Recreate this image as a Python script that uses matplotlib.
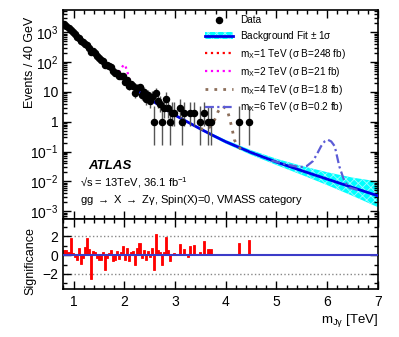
import numpy as np
import matplotlib
matplotlib.use("Agg")
from matplotlib import pyplot as plt
from matplotlib.lines import Line2D
from matplotlib.patches import Patch
from matplotlib.ticker import FixedLocator, FixedFormatter, MultipleLocator, NullFormatter

plt.rcParams['font.family'] = ['Liberation Sans', 'DejaVu Sans']
plt.rcParams['mathtext.fontset'] = 'custom'
plt.rcParams['mathtext.rm'] = 'Liberation Sans'
plt.rcParams['mathtext.it'] = 'Liberation Sans:italic'
plt.rcParams['mathtext.bf'] = 'Liberation Sans:bold'
plt.rcParams['mathtext.default'] = 'regular'
plt.rcParams['hatch.linewidth'] = 0.6

# data: 40 GeV bins starting at 0.8 TeV
bin_lo = 0.8
bin_width = 0.04
counts = [1866, 1598, 1360, 1214, 992, 839, 713, 641, 515, 454,
          412, 374, 305, 215, 226, 195, 161, 137, 118, 110,
          78, 78, 73, 66, 50, 44, 44, 34, 33, 33,
          22, 25, 16, 18, 16, 9, 14, 15, 8, 10,
          6, 8, 5, 7, 1, 9, 5, 4, 1, 3,
          6, 3, 1, 2, 2, 0, 0, 3, 1, 2,
          0, 0, 2, 0, 2, 0, 0, 1, 0, 2,
          0, 1, 1, 0, 0, 0, 0, 0, 0, 0,
          0, 0, 0, 0, 0, 0, 1, 0, 0, 0,
          0, 1]
significance = [0.5, 0.5, 0.3, 1.8, 0.2, -0.2, -0.5, 0.7, -0.9, -0.3,
                0.8, 1.75, 0.6, -2.5, 0.4, 0.35, -0.3, -0.5, -0.5, 0.3,
                -1.6, -0.3, 0.2, 0.5, -0.6, -0.5, 0.4, -0.4, 0.3, 1.0,
                -0.5, 0.7, -0.6, 0.3, 0.4, -1.0, 0.7, 1.3, -0.3, 0.5,
                -0.5, 0.4, -0.2, 0.7, -1.6, 2.2, 0.5, 0.35, -1.1, 0.3,
                1.9, 0.5, -0.6, 0.1, 0.2, 0, 0, 1.2, 0.1, 0.6,
                0, -0.25, 1.0, 0, 1.1, 0, 0, 0.35, 0, 1.5,
                0, 0.6, 0.6, 0, 0, 0, 0, 0, 0, 0,
                0, 0, 0, 0, 0, 0, 1.3, 0, 0, 0,
                0, 1.6]

# poisson (garwood) errors for small counts: n -> (down, up)
poisson_err = {1: (0.83, 2.30), 2: (1.29, 2.64), 3: (1.63, 2.92), 4: (1.91, 3.16),
               5: (2.16, 3.38), 6: (2.38, 3.58), 7: (2.58, 3.77), 8: (2.77, 3.94),
               9: (2.94, 4.11), 10: (3.11, 4.26)}

# background fit and +-1 sigma band (half width in decades)
bkg_x = [0.8, 1.0, 1.2, 1.4, 1.6, 1.8, 2.0, 2.2, 2.4, 2.6, 2.8, 3.0, 3.25,
         3.5, 3.75, 4.0, 4.5, 5.0, 5.5, 6.0, 6.5, 7.0]
bkg_y = [1995, 912, 427, 204, 100, 50, 25.7, 13.8, 7.76, 4.47, 2.69, 1.66, 0.977,
         0.575, 0.347, 0.214, 0.0933, 0.0447, 0.0229, 0.0120, 0.0063, 0.0033]
band_up = [0.01, 0.01, 0.01, 0.01, 0.01, 0.01, 0.015, 0.015, 0.02, 0.02, 0.025, 0.03,
           0.035, 0.04, 0.05, 0.06, 0.08, 0.11, 0.16, 0.23, 0.33, 0.48]
band_dn = [0.01, 0.01, 0.01, 0.01, 0.01, 0.01, 0.015, 0.015, 0.02, 0.02, 0.025, 0.03,
           0.035, 0.04, 0.05, 0.06, 0.08, 0.1, 0.14, 0.2, 0.28, 0.38]

# signal + background curves
sig1_x = [0.86, 0.90, 0.94, 0.98, 1.00, 1.02, 1.06, 1.10]
sig1_y = [1580, 1370, 1260, 1230, 1200, 1080, 780, 630]
sig2_x = [1.80, 1.86, 1.90, 1.94, 1.98, 2.00, 2.02, 2.06, 2.10, 2.16]
sig2_y = [50, 42, 46, 60, 78, 82, 76, 48, 26, 16]
sig4_x = [3.5, 3.6, 3.7, 3.75, 3.8, 3.85, 3.9, 3.95, 4.0, 4.04, 4.08, 4.12, 4.17, 4.22, 4.3]
sig4_y = [0.58, 0.55, 0.68, 0.9, 1.35, 2.2, 3.0, 3.25, 2.8, 2.2, 1.2, 0.65, 0.25, 0.17, 0.12]
sig6_x = [4.9, 5.2, 5.46, 5.6, 5.72, 5.8, 5.88, 5.95, 6.01, 6.08, 6.15, 6.24, 6.34, 6.44, 6.6]
sig6_y = [0.050, 0.037, 0.030, 0.033, 0.048, 0.083, 0.151, 0.219, 0.251, 0.219, 0.151,
          0.032, 0.0102, 0.0062, 0.0052]

labels = ["Data", r"Background Fit $\pm$ 1$\sigma$",
          r"m$_{X}$=1 TeV ($\sigma$ B=248 fb)", r"m$_{X}$=2 TeV ($\sigma$ B=21 fb)",
          r"m$_{X}$=4 TeV ($\sigma$ B=1.8 fb)", r"m$_{X}$=6 TeV ($\sigma$ B=0.2 fb)"]

cyan = '#00ffff'
blue = '#0000e6'
red = '#ff0000'
magenta = '#ff00ff'
brown = '#8c6e5a'
slate = '#5c5cd6'

fig = plt.figure(figsize=(3.99, 3.37), dpi=100)
ax1 = fig.add_axes([0.159, 0.350, 0.788, 0.620])
ax2 = fig.add_axes([0.159, 0.142, 0.788, 0.208], sharex=ax1)

counts = np.array(counts)
centers = bin_lo + bin_width * (np.arange(len(counts)) + 0.5)
nz = counts > 0
err_lo = np.array([poisson_err[n][0] if n in poisson_err else np.sqrt(n) for n in counts[nz]])
err_hi = np.array([poisson_err[n][1] if n in poisson_err else np.sqrt(n) for n in counts[nz]])

bx = np.array(bkg_x)
by = np.array(bkg_y)
ax1.fill_between(bx, by / 10 ** np.array(band_dn), by * 10 ** np.array(band_up),
                 facecolor=cyan, edgecolor='#9ffcff', hatch='xxxx', linewidth=0, zorder=1)
ax1.plot(bx, by, color=blue, lw=2, zorder=3)

ax1.plot(sig1_x, sig1_y, color=red, ls=':', lw=1.6, zorder=4)
ax1.plot(sig2_x, sig2_y, color=magenta, ls=':', lw=1.6, zorder=4)
ax1.plot(sig4_x, sig4_y, color=brown, ls=(0, (1, 2.2)), lw=2, zorder=4)
ax1.plot(sig6_x, sig6_y, color=slate, ls=(0, (4, 1.5, 1, 1.5)), lw=1.6, zorder=4)

ax1.errorbar(centers[nz], counts[nz], yerr=[err_lo, err_hi], fmt='o', color='k',
             ms=4.4, ecolor='#555555', elinewidth=1, capsize=0, zorder=5)

ax1.set_yscale('log')
ax1.set_xlim(0.8, 7.0)
ax1.set_ylim(5.5e-4, 5.5e3)
ax1.yaxis.set_major_locator(FixedLocator([1e-3, 1e-2, 1e-1, 1, 10, 1e2, 1e3]))
ax1.yaxis.set_major_formatter(FixedFormatter(['$10^{-3}$', '$10^{-2}$', '$10^{-1}$', '1', '10',
                                              '$10^{2}$', '$10^{3}$']))
minors = [m * 10.0 ** e for e in range(-4, 4) for m in range(2, 10)]
ax1.yaxis.set_minor_locator(FixedLocator(minors))
ax1.yaxis.set_minor_formatter(NullFormatter())
ax1.xaxis.set_major_locator(MultipleLocator(1))
ax1.xaxis.set_minor_locator(MultipleLocator(0.2))
plt.setp(ax1.get_xticklabels(), visible=False)

ax2.bar(centers, significance, width=bin_width, color=red, edgecolor=red, linewidth=0.6, zorder=2)
ax2.axhline(0, color='#3c3cc8', lw=1.5, zorder=3)
ax2.axhline(2, color='#888888', ls=':', lw=1, zorder=1)
ax2.axhline(-2, color='#888888', ls=':', lw=1, zorder=1)
ax2.set_ylim(-3.6, 3.8)
ax2.yaxis.set_major_locator(FixedLocator([-2, 0, 2]))
ax2.yaxis.set_major_formatter(FixedFormatter(['\u22122', '0', '2']))
ax2.yaxis.set_minor_locator(MultipleLocator(1))

for ax in (ax1, ax2):
    ax.tick_params(which='both', direction='in', top=True, right=True, labelsize=10, width=1)
    ax.tick_params(which='major', length=6)
    ax.tick_params(which='minor', length=3)
    for s in ax.spines.values():
        s.set_linewidth(1.2)
ax2.tick_params(axis='x', pad=4)

handles = [Line2D([], [], marker='o', color='k', ls='none', ms=4.4),
           (Patch(facecolor=cyan, edgecolor='#9ffcff', hatch='xxxx', linewidth=0),
            Line2D([], [], color=blue, lw=2)),
           Line2D([], [], color=red, ls=':', lw=1.6),
           Line2D([], [], color=magenta, ls=':', lw=1.6),
           Line2D([], [], color=brown, ls=(0, (1, 2.2)), lw=2),
           Line2D([], [], color=slate, ls=(0, (4, 1.5, 1, 1.5)), lw=1.6)]
ax1.legend(handles, labels, loc='upper left', bbox_to_anchor=(0.45, 0.975), frameon=False,
           fontsize=7.2, handlelength=2.8, handletextpad=0.7, labelspacing=0.38,
           borderpad=0, borderaxespad=0)

fig.text(88 / 399, 1 - 166 / 337, 'ATLAS', fontsize=9.5, fontweight='bold', style='italic',
         ha='left', va='center')
fig.text(80 / 399, 1 - 183 / 337, '\u221as = 13TeV, 36.1 fb$^{-1}$', fontsize=8,
         ha='left', va='center')
fig.text(80 / 399, 1 - 200 / 337, r'gg $\rightarrow$ X $\rightarrow$ Z$\gamma$, Spin(X)=0, VMASS category',
         fontsize=8, ha='left', va='center')

fig.text(30 / 399, 1 - 62 / 337, 'Events / 40 GeV', rotation=90, fontsize=9, ha='center', va='center')
fig.text(30 / 399, 1 - 261 / 337, 'Significance', rotation=90, fontsize=9, ha='center', va='center')
fig.text(378 / 399, 1 - 320 / 337, r'm$_{J\gamma}$ [TeV]', fontsize=9.5, ha='right', va='center')

fig.savefig('out.png', dpi=100)
